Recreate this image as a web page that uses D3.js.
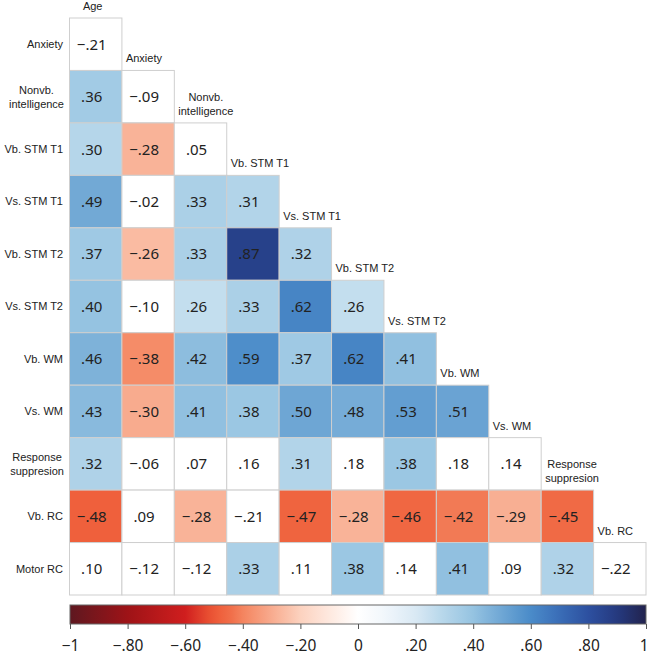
<!DOCTYPE html>
<html lang="en">
<head>
    <meta charset="UTF-8">
    <title>Correlation matrix</title>
    <style>
        body { margin: 0; background: #fff; }
        #chart { width: 649px; height: 659px; }
    </style>
</head>
<body>
    <div id="chart"></div>

    <script src="https://d3js.org/d3.v7.min.js"></script>
    <script>
        // variables in the order of the matrix
        const colNames = ["Age", "Anxiety", "Nonvb.\nintelligence", "Vb. STM T1", "Vs. STM T1",
            "Vb. STM T2", "Vs. STM T2", "Vb. WM", "Vs. WM", "Response\nsuppresion", "Vb. RC"];
        const rowNames = ["Anxiety", "Nonvb.\nintelligence", "Vb. STM T1", "Vs. STM T1", "Vb. STM T2",
            "Vs. STM T2", "Vb. WM", "Vs. WM", "Response\nsuppresion", "Vb. RC", "Motor RC"];

        // lower triangle, one array per row
        const rAnxiety = [-.21];
        const rNonvb = [.36, -.09];
        const rVbStmT1 = [.30, -.28, .05];
        const rVsStmT1 = [.49, -.02, .33, .31];
        const rVbStmT2 = [.37, -.26, .33, .87, .32];
        const rVsStmT2 = [.40, -.10, .26, .33, .62, .26];
        const rVbWM = [.46, -.38, .42, .59, .37, .62, .41];
        const rVsWM = [.43, -.30, .41, .38, .50, .48, .53, .51];
        const rResp = [.32, -.06, .07, .16, .31, .18, .38, .18, .14];
        const rVbRC = [-.48, .09, -.28, -.21, -.47, -.28, -.46, -.42, -.29, -.45];
        const rMotorRC = [.10, -.12, -.12, .33, .11, .38, .14, .41, .09, .32, -.22];
        const matrix = [rAnxiety, rNonvb, rVbStmT1, rVsStmT1, rVbStmT2, rVsStmT2,
            rVbWM, rVsWM, rResp, rVbRC, rMotorRC];

        // cells below this size are left white (not significant)
        const sigCutoff = 0.25;

        const legendTicks = [-1, -0.8, -0.6, -0.4, -0.2, 0, 0.2, 0.4, 0.6, 0.8, 1];

        const width = 649, height = 659;
        const svg = d3.select("#chart").append("svg")
            .attr("width", width)
            .attr("height", height);

        const labelFont = "'Liberation Sans', Arial, sans-serif";
        const numFont = "'Noto Sans', 'Open Sans', sans-serif";

        // diverging colour ramp, red for negative, blue for positive
        const color = d3.scaleLinear()
            .domain([-1, -0.8, -0.6, -0.5, -0.45, -0.4, -0.3, -0.2, -0.1, 0, 0.1, 0.2, 0.3, 0.4, 0.5, 0.6, 0.7, 0.8, 0.9, 1])
            .range(["#5e1820", "#9e1317", "#d01e1e", "#ee5a36", "#f06a45", "#f4845f", "#f8ab8e", "#fcd2bf", "#fee9df", "#ffffff",
                "#f0f6fb", "#d9e9f4", "#b5d6ea", "#95c3e1", "#6ea6d4", "#4a8bc9", "#3a6db7", "#2d50a0", "#253a80", "#22224d"])
            .interpolate(d3.interpolateRgb);

        const x = d3.scaleBand().domain(d3.range(colNames.length)).range([69.5, 646]);
        const y = d3.scaleBand().domain(d3.range(rowNames.length)).range([18, 595]);

        const fmt = v => {
            const s = d3.format(".2f")(Math.abs(v)).replace(/^0/, "");
            return (v < 0 ? "\u2212" : "") + s;
        };

        const cells = [];
        matrix.forEach((row, i) => row.forEach((v, j) => cells.push({ i, j, v })));

        // cells
        svg.append("g").selectAll("rect")
            .data(cells)
            .enter()
            .append("rect")
            .attr("x", d => x(d.j))
            .attr("y", d => y(d.i))
            .attr("width", x.bandwidth())
            .attr("height", y.bandwidth())
            .attr("fill", d => Math.abs(d.v) >= sigCutoff ? color(d.v) : "#ffffff")
            .attr("stroke", "#cfcfcf")
            .attr("stroke-width", 1);

        svg.append("g").selectAll("text")
            .data(cells)
            .enter()
            .append("text")
            .attr("x", d => x(d.j) + x.bandwidth() / 2 - 4)
            .attr("y", d => y(d.i) + y.bandwidth() / 2)
            .attr("dy", "0.36em")
            .attr("text-anchor", "middle")
            .attr("font-family", numFont)
            .attr("font-size", 15)
            .attr("fill", "#222")
            .text(d => fmt(d.v));

        // row labels, right aligned; two-line labels centred as a block
        rowNames.forEach((name, i) => {
            const lines = name.split("\n");
            const cy = y(i) + y.bandwidth() / 2;
            const t = svg.append("text")
                .attr("font-family", labelFont)
                .attr("font-size", 11)
                .attr("fill", "#222");
            lines.forEach((ln, k) => {
                t.append("tspan")
                    .attr("y", cy + (k - (lines.length - 1) / 2) * 14)
                    .attr("dy", "0.35em")
                    .text(ln);
            });
            if (lines.length === 1) {
                t.attr("text-anchor", "end").selectAll("tspan").attr("x", 63);
            } else {
                t.attr("text-anchor", "middle");
                const w = d3.max(t.selectAll("tspan").nodes(), n => n.getComputedTextLength());
                t.selectAll("tspan").attr("x", 64 - w / 2);
            }
        });

        // column headers sit just above the first cell of each column
        colNames.forEach((name, j) => {
            const lines = name.split("\n");
            const top = y(j);
            const t = svg.append("text")
                .attr("font-family", labelFont)
                .attr("font-size", 11)
                .attr("fill", "#222");
            lines.forEach((ln, k) => {
                t.append("tspan")
                    .attr("y", top - 8 - (lines.length - 1 - k) * 14)
                    .text(ln);
            });
            if (j === 0) {
                t.attr("text-anchor", "middle").selectAll("tspan").attr("x", x(j) + x.bandwidth() / 2 - 3);
            } else if (lines.length === 1) {
                t.attr("text-anchor", "start").selectAll("tspan").attr("x", x(j) + 4);
            } else {
                t.attr("text-anchor", "middle");
                const w = d3.max(t.selectAll("tspan").nodes(), n => n.getComputedTextLength());
                t.selectAll("tspan").attr("x", x(j) + 4 + w / 2);
            }
        });

        // colour bar
        const cx = d3.scaleLinear().domain([-1, 1]).range([70, 646]);
        const grad = svg.append("defs").append("linearGradient")
            .attr("id", "cbar")
            .attr("x1", "0%").attr("x2", "100%").attr("y1", "0%").attr("y2", "0%");
        d3.range(0, 1.0001, 0.02).forEach(t => {
            grad.append("stop")
                .attr("offset", (t * 100) + "%")
                .attr("stop-color", color(-1 + 2 * t));
        });
        svg.append("rect")
            .attr("x", cx(-1))
            .attr("y", 605)
            .attr("width", cx(1) - cx(-1))
            .attr("height", 19)
            .attr("fill", "url(#cbar)")
            .attr("stroke", "#666")
            .attr("stroke-width", 1);

        const tickFmt = v => {
            if (v === 0) return "0";
            if (Math.abs(v) === 1) return (v < 0 ? "\u2212" : "") + "1";
            return fmt(v);
        };
        const axis = svg.append("g")
            .attr("transform", "translate(0,624)")
            .call(d3.axisBottom(cx).tickValues(legendTicks).tickSize(5).tickSizeOuter(0).tickFormat(tickFmt));
        axis.select(".domain").remove();
        axis.selectAll(".tick line").attr("stroke", "#555");
        axis.selectAll(".tick text")
            .attr("y", 16)
            .attr("font-family", numFont)
            .attr("font-size", 15.5)
            .attr("fill", "#222");
        // keep the end label inside the picture
        axis.selectAll(".tick text").filter(d => d === 1).attr("text-anchor", "end").attr("dx", 2);
    </script>
</body>
</html>
